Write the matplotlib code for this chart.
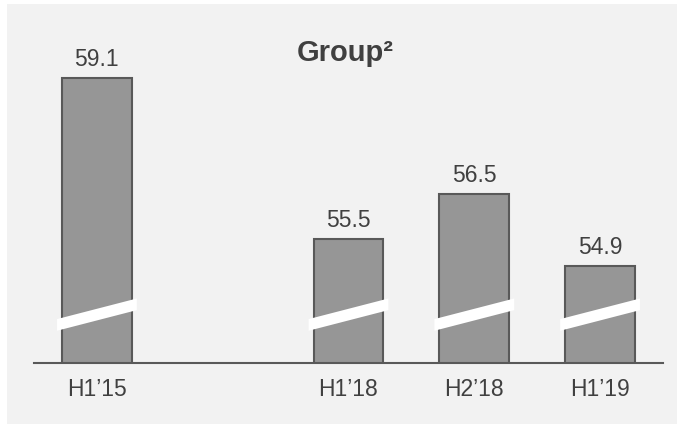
import matplotlib.pyplot as plt
from matplotlib.patches import Polygon, Rectangle

plt.rcParams['font.family'] = ['Liberation Sans', 'DejaVu Sans']

# periods and values (the H2'15 .. H2'17 slots are left empty)
periods = ['H1’15', 'H1’18', 'H2’18', 'H1’19']
slots = [0, 2, 3, 4]
values = [59.1, 55.5, 56.5, 54.9]
axis_floor = 52.73

bar_color = '#969696'
edge_color = '#595959'
text_color = '#404040'
panel_color = '#f2f2f2'

W, H = 677, 424
fig = plt.figure(figsize=(W / 100, H / 100), dpi=100)
fig.patches.append(Rectangle((7 / W, 0), 1 - 7 / W, 1 - 4 / H,
                             transform=fig.transFigure,
                             facecolor=panel_color, edgecolor='none', zorder=-1))

ax = fig.add_axes([34 / W, 61 / H, 629 / W, 353 / H])
ax.set_facecolor('none')

bars = ax.bar(slots, values, width=0.556, bottom=0, color=bar_color,
              edgecolor=edge_color, linewidth=1.5, zorder=2)
ax.set_xlim(-0.5, 4.5)
ax.set_ylim(axis_floor, axis_floor + 353 / 44.8)

for x, v in zip(slots, values):
    ax.annotate(f'{v:.1f}', (x, v), xytext=(0, 5), textcoords='offset points',
                ha='center', va='bottom', fontsize=16.5, color=text_color)

    # white slash marking the broken value axis
    half = 0.317
    y0, y1, t = 53.58, 54.04, 0.13
    ax.add_patch(Polygon([(x - half, y0 - t), (x + half, y1 - t),
                          (x + half, y1 + t), (x - half, y0 + t)],
                         closed=True, facecolor='white', edgecolor='none', zorder=3))

for side in ['top', 'right', 'left']:
    ax.spines[side].set_visible(False)
ax.spines['bottom'].set_color(edge_color)
ax.spines['bottom'].set_linewidth(1.5)
ax.spines['bottom'].set_zorder(4)

ax.set_yticks([])
ax.set_xticks(slots)
ax.set_xticklabels(periods, fontsize=16.5, color=text_color)
ax.tick_params(axis='x', length=0, pad=11)

fig.text(345.5 / W, (H - 61) / H, 'Group²', ha='center', va='baseline',
         fontsize=21, fontweight='bold', color=text_color)

fig.savefig('out.png', dpi=100, facecolor='white')
